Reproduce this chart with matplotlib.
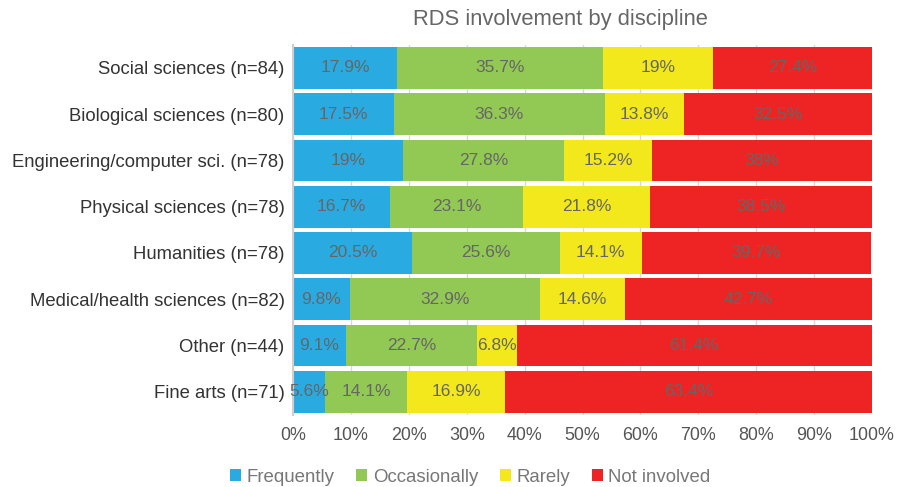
import numpy as np
from matplotlib import pyplot as plt

plt.rcParams['font.family'] = ['Liberation Sans', 'DejaVu Sans']

categories = ['Social sciences (n=84)', 'Biological sciences (n=80)',
              'Engineering/computer sci. (n=78)', 'Physical sciences (n=78)',
              'Humanities (n=78)', 'Medical/health sciences (n=82)',
              'Other (n=44)', 'Fine arts (n=71)']
series = ['Frequently', 'Occasionally', 'Rarely', 'Not involved']
frequently = [17.9, 17.5, 19, 16.7, 20.5, 9.8, 9.1, 5.6]
occasionally = [35.7, 36.3, 27.8, 23.1, 25.6, 32.9, 22.7, 14.1]
rarely = [19, 13.8, 15.2, 21.8, 14.1, 14.6, 6.8, 16.9]
not_involved = [27.4, 32.5, 38, 38.5, 39.7, 42.7, 61.4, 63.4]
colors = ['#29ABE2', '#92C854', '#F2E81C', '#EE2424']

fig = plt.figure(figsize=(8.99, 4.87), dpi=100)
ax = fig.add_axes([0.326, 0.148, 0.644, 0.760])

y = np.arange(len(categories))
left = np.zeros(len(categories))
for name, vals, c in zip(series, [frequently, occasionally, rarely, not_involved], colors):
    vals = np.array(vals, dtype=float)
    ax.barh(y, vals, left=left, height=0.9, color=c, label=name, zorder=2)
    for yi, l, v in zip(y, left, vals):
        ax.text(l + v / 2, yi, '%g%%' % v, ha='center', va='center',
                fontsize=12.5, color='#666666', zorder=3)
    left += vals

ax.set_xlim(0, 100)
ax.set_ylim(len(categories) - 0.5, -0.5)
ax.set_yticks(y)
ax.set_yticklabels(categories, fontsize=13.3, color='#333333')
ax.set_xticks(np.arange(0, 101, 10))
ax.set_xticklabels(['%d%%' % t for t in range(0, 101, 10)], fontsize=12.9, color='#555555')
ax.tick_params(axis='y', length=0, pad=6)
ax.tick_params(axis='x', length=0, pad=9)
ax.grid(axis='x', color='#d9d9d9', linewidth=1, zorder=0)
for s in ['top', 'right', 'bottom']:
    ax.spines[s].set_visible(False)
ax.spines['left'].set_color('#d0d0d0')
ax.spines['left'].set_linewidth(1.5)
fig.text(0.623, 0.960, 'RDS involvement by discipline', fontsize=15.8, color='#666666',
         ha='center', va='center')

ax.legend(loc='upper center', bbox_to_anchor=(0.306, -0.10), ncol=4, frameon=False,
          fontsize=13.4, handlelength=0.6, handleheight=0.6, handletextpad=0.3,
          columnspacing=1.15, labelcolor='#777777')

plt.savefig('out.png', dpi=100)
